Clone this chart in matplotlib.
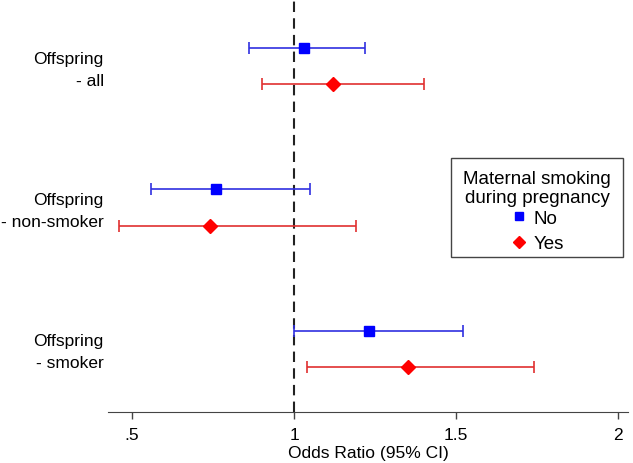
import matplotlib
matplotlib.use("Agg")
import matplotlib.pyplot as plt
import matplotlib.transforms as mtransforms
from matplotlib.lines import Line2D
from matplotlib.patches import Rectangle

plt.rcParams['font.family'] = ['Liberation Sans', 'DejaVu Sans']

groups = ["Offspring\n- all", "Offspring\n- non-smoker", "Offspring\n- smoker"]
or_no = [1.03, 0.76, 1.23]
lo_no = [0.86, 0.56, 1.00]
hi_no = [1.22, 1.05, 1.52]
or_yes = [1.12, 0.74, 1.35]
lo_yes = [0.90, 0.46, 1.04]
hi_yes = [1.40, 1.19, 1.74]
xticks = [0.5, 1, 1.5, 2]
xticklabels = [".5", "1", "1.5", "2"]

fig = plt.figure(figsize=(6.33, 4.64), dpi=100)
ax = fig.add_axes([0.1706, 0.110, 0.8214, 0.890])

centers = [3, 2, 1]
off = 0.128
y_no = [c + off for c in centers]
y_yes = [c - off for c in centers]

# confidence intervals
ax.errorbar(or_no, y_no,
            xerr=[[o - l for o, l in zip(or_no, lo_no)], [h - o for o, h in zip(or_no, hi_no)]],
            fmt='s', color='#0000ff', ecolor='#3030e0', elinewidth=1.2, capsize=4,
            capthick=1.2, markersize=7, zorder=3)
ax.errorbar(or_yes, y_yes,
            xerr=[[o - l for o, l in zip(or_yes, lo_yes)], [h - o for o, h in zip(or_yes, hi_yes)]],
            fmt='D', color='#ff0000', ecolor='#e03030', elinewidth=1.2, capsize=4,
            capthick=1.2, markersize=7.5, zorder=3)

ax.axvline(1, color='#222222', linestyle=(0, (5, 3)), linewidth=1.5, zorder=2)

ax.set_xlim(0.426, 2.03)
ax.set_ylim(0.553, 3.475)
ax.set_xticks(xticks)
ax.set_xticklabels(xticklabels, fontsize=12.5)
ax.set_xlabel("Odds Ratio (95% CI)", fontsize=12.5, labelpad=2)
ax.set_yticks(centers)
ax.set_yticklabels(groups, fontsize=12.5, ha='right', va='center',
                   multialignment='right', linespacing=1.6)
ax.tick_params(axis='y', length=0, pad=3)
ax.tick_params(axis='x', length=5, width=1, color='#444444', pad=6)
# nudge the row labels down a little
shift = mtransforms.ScaledTranslation(0, -0.03, fig.dpi_scale_trans)
for lab in ax.get_yticklabels():
    lab.set_transform(lab.get_transform() + shift)
for s in ['top', 'right', 'left']:
    ax.spines[s].set_visible(False)
ax.spines['bottom'].set_color('#444444')

# legend box drawn separately so the padding can be uneven like the original
ax.add_patch(Rectangle((0.6596, 0.375), 0.3308, 0.240, transform=ax.transAxes,
                       facecolor='white', edgecolor='#444444', linewidth=1.0,
                       zorder=4, clip_on=False))
handles = [Line2D([], [], marker='s', color='#0000ff', linestyle='none', markersize=5.5),
           Line2D([], [], marker='D', color='#ff0000', linestyle='none', markersize=6)]
leg = ax.legend(handles, ["No", "Yes"], title="Maternal smoking\nduring pregnancy",
                fontsize=13.5, title_fontsize=13.5, loc='upper center',
                bbox_to_anchor=(0.825, 0.615), frameon=False,
                handletextpad=0.25, handlelength=1.0,
                borderpad=0.65, labelspacing=0.45, borderaxespad=0)
leg.set_zorder(5)
leg.get_title().set_multialignment('center')
leg.get_title().set_linespacing(1.15)
leg._legend_box.align = 'center'
leg._legend_box.sep = 2.5

fig.savefig("out.png", dpi=100)
